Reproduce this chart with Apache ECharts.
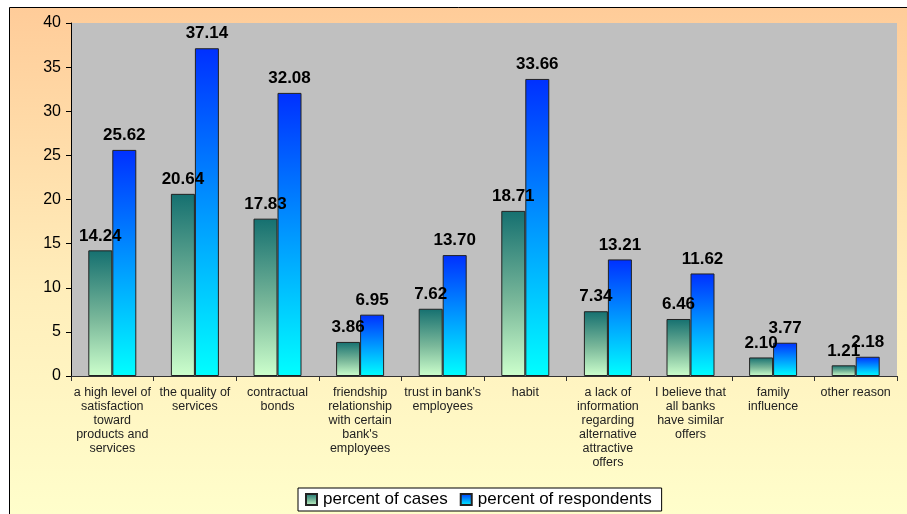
<!DOCTYPE html>
<html>
<head>
<meta charset="utf-8">
<script src="https://cdn.jsdelivr.net/npm/echarts@6/dist/echarts.min.js"></script>
<style>html,body{margin:0;padding:0;background:#fff;}#c{width:907px;height:514px;}</style>
</head>
<body>
<div id="c"></div>
<script>
var categories = [
  "a high level of\nsatisfaction\ntoward\nproducts and\nservices",
  "the quality of\nservices",
  "contractual\nbonds",
  "friendship\nrelationship\nwith certain\nbank's\nemployees",
  "trust in bank's\nemployees",
  "habit",
  "a lack of\ninformation\nregarding\nalternative\nattractive\noffers",
  "I believe that\nall banks\nhave similar\noffers",
  "family\ninfluence",
  "other reason"
];
var percentOfCases = [14.24, 20.64, 17.83, 3.86, 7.62, 18.71, 7.34, 6.46, 2.10, 1.21];
var percentOfRespondents = [25.62, 37.14, 32.08, 6.95, 13.70, 33.66, 13.21, 11.62, 3.77, 2.18];
var yTicks = {min: 0, max: 40, interval: 5};

var chart = echarts.init(document.getElementById('c'));
var lbl = {show: true, position: 'top', fontFamily: 'Liberation Sans, Arial', fontWeight: 'bold', fontSize: 17, color: '#000', distance: 6, formatter: function(p){return p.value.toFixed(2);}};
chart.setOption({
  animation: false,
  graphic: [{
    type: 'rect', z: -10,
    shape: {x: 9.5, y: 7.5, width: 910, height: 520},
    style: {
      fill: new echarts.graphic.LinearGradient(0, 0, 0, 1, [{offset: 0, color: '#ffcc99'}, {offset: 0.55, color: '#ffeebb'}, {offset: 1, color: '#ffffcc'}]),
      stroke: '#000', lineWidth: 1
    }
  }],
  grid: {left: 71, top: 23, right: 10, bottom: 138, show: true, backgroundColor: '#c0c0c0', borderWidth: 0},
  legend: {
    bottom: 3, left: 298,
    backgroundColor: '#fff', borderColor: '#000', borderWidth: 1, borderRadius: 0,
    padding: [3, 10, 3, 7], itemGap: 12,
    icon: 'rect',
    itemWidth: 11, itemHeight: 11,
    textStyle: {fontFamily: 'Liberation Sans, Arial', fontSize: 17, color: '#000', padding: [0, 0, 0, 1]},
    data: ['percent of cases', 'percent of respondents']
  },
  xAxis: {
    type: 'category', data: categories,
    axisLine: {lineStyle: {color: '#333', width: 1}},
    axisTick: {show: true, length: 5, lineStyle: {color: '#333'}},
    axisLabel: {interval: 0, fontFamily: 'Liberation Sans, Arial', fontSize: 12.5, color: '#222', lineHeight: 14, margin: 10}
  },
  yAxis: {
    type: 'value', min: yTicks.min, max: yTicks.max, interval: yTicks.interval,
    splitLine: {show: false},
    axisLine: {show: true, lineStyle: {color: '#000'}},
    axisTick: {show: true, length: 5, lineStyle: {color: '#000'}},
    axisLabel: {fontFamily: 'Liberation Sans, Arial', fontSize: 16, color: '#000', margin: 10}
  },
  series: [{
    name: 'percent of cases', type: 'bar', data: percentOfCases,
    barWidth: 24, barGap: '0%',
    itemStyle: {
      color: new echarts.graphic.LinearGradient(0, 0, 0, 1, [{offset: 0, color: '#157070'}, {offset: 0.55, color: '#7ab89a'}, {offset: 1, color: '#ccffcc'}]),
      borderColor: '#222', borderWidth: 1
    },
    label: lbl
  }, {
    name: 'percent of respondents', type: 'bar', data: percentOfRespondents,
    barWidth: 24, barGap: '0%',
    itemStyle: {
      color: new echarts.graphic.LinearGradient(0, 0, 0, 1, [{offset: 0, color: '#0030ff'}, {offset: 1, color: '#00ffff'}]),
      borderColor: '#222', borderWidth: 1
    },
    label: lbl
  }]
});
</script>
</body>
</html>
